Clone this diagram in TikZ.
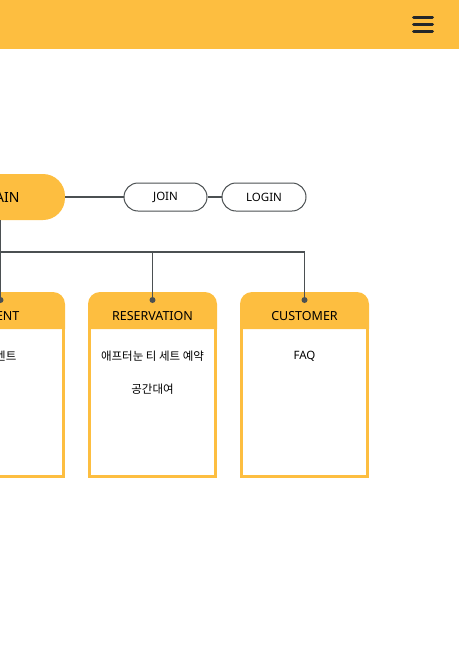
\documentclass[tikz,border=0pt]{standalone}
\usepackage{fontspec}
\setmainfont{Noto Sans}
\newfontfamily\krfont{Noto Sans CJK KR}
\usetikzlibrary{positioning}
\definecolor{menuyellow}{HTML}{FDBE40}
\definecolor{linegray}{HTML}{4B5052}
\definecolor{icondark}{HTML}{23272A}

\begin{document}
\begin{tikzpicture}[x=1pt,y=-1pt,
	conn/.style={draw=linegray, line width=1.3pt},
	pill/.style={draw=linegray, line width=1pt, rounded corners=14pt, minimum width=83pt, minimum height=28pt, inner sep=0pt, font=\fontsize{11.5}{13}\selectfont},
	headlabel/.style={font=\fontsize{12.5}{14}\selectfont, inner sep=0pt},
	itemlabel/.style={font=\krfont\fontsize{11.5}{13}\selectfont, inner sep=0pt}]
	\useasboundingbox (0,0) rectangle (459,646);

	%Header
	\fill[menuyellow] (0,0) rectangle (459,48.5);
	\foreach \y in {17.5,24.5,31.5}
		\draw[icondark, line width=3pt, line cap=round] (413.5,\y) -- (432.5,\y);

	%Main, join, login
	\node[fill=menuyellow, rounded corners=22pt, minimum width=128pt, minimum height=46pt, font=\fontsize{14}{16}\selectfont] (main) at (1,197) {MAIN};
	\node[pill] (join) at (165.5,197) {JOIN};
	\node[pill, right=14pt of join, minimum width=84pt] (login) {LOGIN};
	\draw[conn] (main) -- (join);
	\draw[conn] (join) -- (login);

	%Menu boxes
	\foreach \cx/\name/\title in {0.5/event/EVENT, 152.5/reservation/RESERVATION, 304.5/customer/CUSTOMER} {
		\fill[menuyellow] (\cx-64.5,329) {[rounded corners=12pt] -- (\cx-64.5,292) -- (\cx+64.5,292)} -- (\cx+64.5,329) -- cycle;
		\draw[menuyellow, line width=3pt] (\cx-63,329) -- (\cx-63,476.5) -- (\cx+63,476.5) -- (\cx+63,329);
		\node[headlabel] (\name) at (\cx,316) {\title};
		\coordinate (\name dot) at (\cx,300);
	}

	\node[itemlabel] (eventitem) at (0.5,356) {이벤트};
	\node[itemlabel] (tea) at (152.5,356) {애프터눈 티 세트 예약};
	\node[itemlabel] (rental) at (152.5,389) {공간대여};
	\node[itemlabel, font=\fontsize{11.5}{13}\selectfont] (faq) at (304.5,356) {FAQ};

	%Tree
	\coordinate (hub) at (0.5,252);
	\draw[conn] (main.south -| eventdot) -- (eventdot);
	\draw[conn] (hub) -| (customerdot);
	\draw[conn] (reservationdot |- hub) -- (reservationdot);
	\foreach \name in {event, reservation, customer}
		\fill[linegray] (\name dot) circle (3pt);

\end{tikzpicture}
\end{document}
